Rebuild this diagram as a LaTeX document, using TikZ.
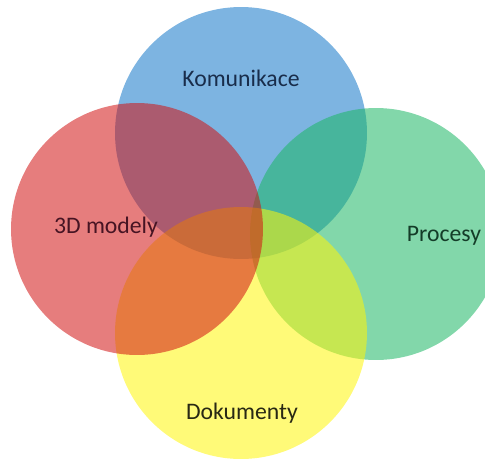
\documentclass[tikz,border=0pt]{standalone}
\usepackage{fontspec}
\setmainfont{Carlito}
\usetikzlibrary{positioning}

\definecolor{kblue}{RGB}{18,118,200}
\definecolor{kred}{RGB}{209,18,18}
\definecolor{kgreen}{RGB}{27,182,100}
\definecolor{kyellow}{RGB}{255,245,9}

\begin{document}
\begin{tikzpicture}[x=0.02cm,y=-0.02cm,
	set/.style={circle, minimum size=5.04cm, inner sep=0pt, fill opacity=0.55},
	lbl/.style={font=\fontsize{13.5}{15}\selectfont}]
		\useasboundingbox (0,0) rectangle (485,458);
		\node (kom) [set, fill=kblue] at (241,133) {};
		\node (pro) [set, fill=kgreen] at (376,234) {};
		\node (dok) [set, fill=kyellow] at (241,333) {};
		\node (mod) [set, fill=kred] at (137,229) {};
		\node (tkom) [lbl, text={rgb,255:red,25;green,45;blue,75}] at (241,78) {Komunikace};
		\node (tmod) [lbl, text={rgb,255:red,70;green,20;blue,35}] at (106,227) {3D modely};
		\node (tpro) [lbl, text={rgb,255:red,20;green,60;blue,40}] at (444,236) {Procesy};
		\node (tdok) [lbl, text={rgb,255:red,40;green,40;blue,20}] at (242,413) {Dokumenty};
		\end{tikzpicture}
\end{document}
